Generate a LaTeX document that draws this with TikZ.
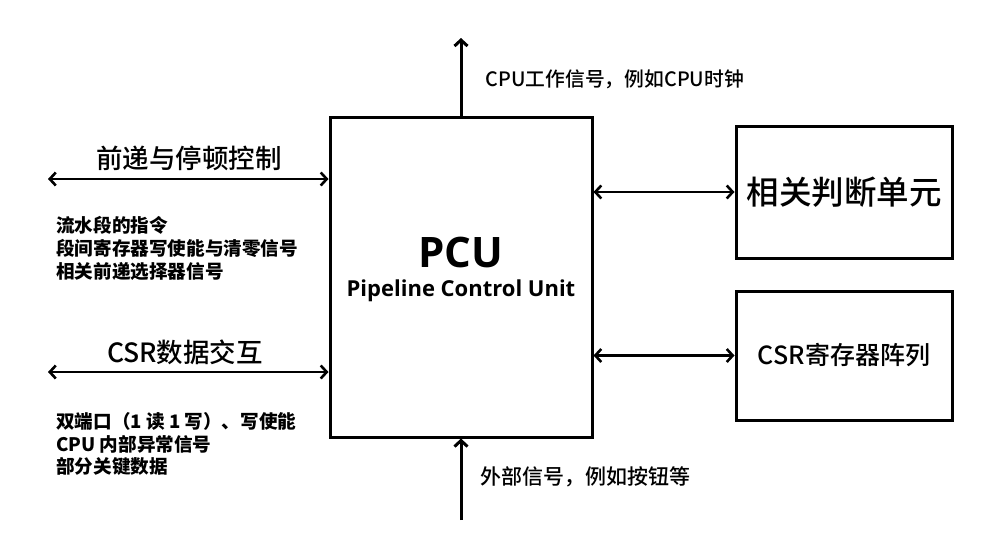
\documentclass[tikz,border=0pt]{standalone}
\usepackage{fontspec}
\setmainfont{Noto Sans CJK SC}
\newfontfamily\cjkmed{Noto Sans CJK SC Medium}
\newfontfamily\latinbold{Open Sans}
\usetikzlibrary{arrows.meta, positioning, calc}
\tikzset{unitbox/.style={draw, line width=3pt, inner sep=0pt}}
\tikzset{busarrow/.style={line width=2.6pt, {Straight Barb[length=6pt,width=13pt]}-{Straight Barb[length=6pt,width=13pt]}}}
\tikzset{sigarrow/.style={line width=3pt, -{Straight Barb[length=6pt,width=13pt]}}}
\tikzset{note/.style={anchor=north west, align=left, inner sep=0pt, font=\fontsize{18.6}{22.8}\selectfont\bfseries}}

\begin{document}
\begin{tikzpicture}[x=1pt, y=-1pt]
\useasboundingbox (0,0) rectangle (992,547);

% main control unit and the two side units
\node[unitbox, minimum width=262pt, minimum height=320pt] (pcu) at (461,277) {};
\node[font=\latinbold\fontsize{42}{42}\selectfont\bfseries] (pcuname) at (461,252) {PCU};
\node[font=\latinbold\fontsize{22}{22}\selectfont\bfseries] (pcufull) at (461,291) {Pipeline Control Unit};
\node[unitbox, minimum width=216pt, minimum height=132pt, font=\cjkmed\fontsize{32.5}{32.5}\selectfont] (judge) at (844,192) {相关判断单元};
\node[unitbox, minimum width=216pt, minimum height=129pt, font=\cjkmed\fontsize{25}{25}\selectfont] (csrarr) at (844,355.5) {CSR寄存器阵列};

% free ends on the left, top and bottom
\coordinate (fwdL) at (48,179);
\coordinate (csrL) at (48,372);
\coordinate (clkT) at (461,38);
\coordinate (extB) at (461,520);

\draw[busarrow] (fwdL) -- (fwdL -| pcu.west);
\draw[busarrow] (csrL) -- (csrL -| pcu.west);
\draw[busarrow] (judge.west -| pcu.east) -- (judge.west);
\draw[busarrow] (csrarr.west -| pcu.east) -- (csrarr.west);
\draw[sigarrow] (pcu.north) -- (clkT);
\draw[sigarrow] (extB) -- (pcu.south);

% labels
\node[font=\cjkmed\fontsize{26.5}{26.5}\selectfont] (fwdlbl) at (189,158) {前递与停顿控制};
\node[font=\cjkmed\fontsize{26.5}{26.5}\selectfont] (csrlbl) at (185,352) {CSR数据交互};
\node[note] (fwdnote) at (56,216) {流水段的指令\\段间寄存器写使能与清零信号\\相关前递选择器信号};
\node[note] (csrnote) at (56,412) {双端口（1 读 1 写）、写使能\\CPU 内部异常信号\\部分关键数据};
\node[anchor=west, font=\cjkmed\fontsize{19.8}{19.8}\selectfont] (clklbl) at (482,79) {CPU工作信号，例如CPU时钟};
\node[anchor=west, font=\cjkmed\fontsize{21}{21}\selectfont] (extlbl) at (477,477) {外部信号，例如按钮等};
\end{tikzpicture}
\end{document}
